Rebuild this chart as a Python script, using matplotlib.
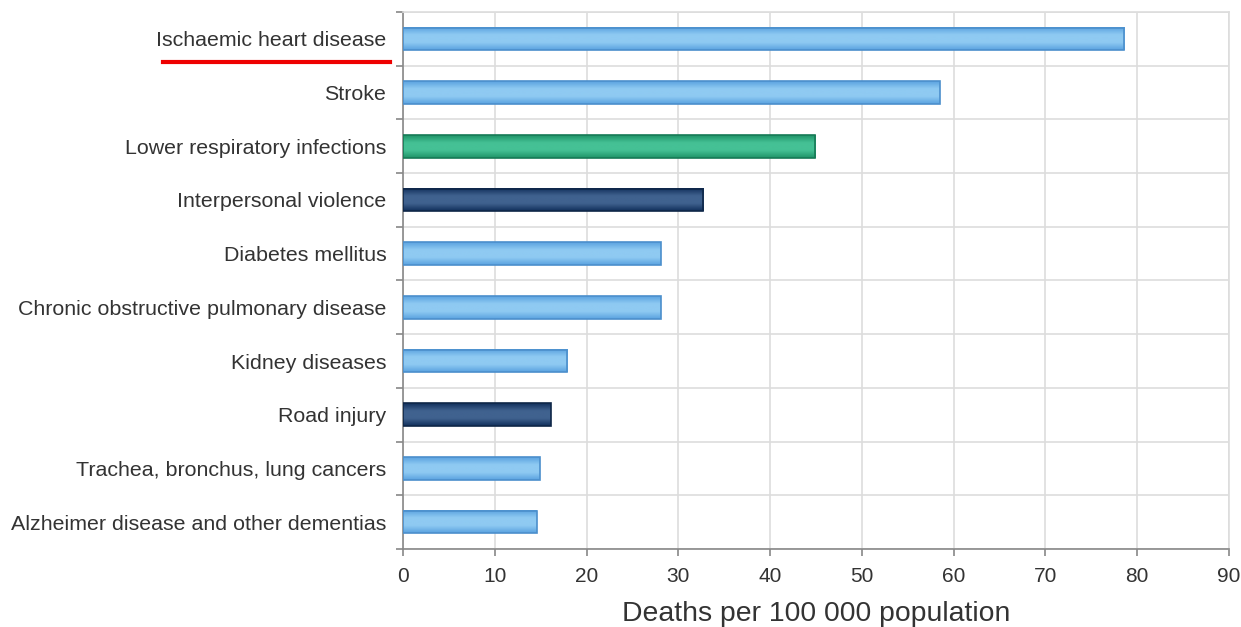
import matplotlib.pyplot as plt
import numpy as np
from matplotlib.colors import LinearSegmentedColormap
from matplotlib.lines import Line2D

plt.rcParams['font.family'] = ['Liberation Sans', 'DejaVu Sans']

causes = ['Ischaemic heart disease', 'Stroke', 'Lower respiratory infections',
          'Interpersonal violence', 'Diabetes mellitus',
          'Chronic obstructive pulmonary disease', 'Kidney diseases',
          'Road injury', 'Trachea, bronchus, lung cancers',
          'Alzheimer disease and other dementias']
deaths = [78.6, 58.5, 44.9, 32.7, 28.1, 28.1, 17.9, 16.1, 14.9, 14.6]
group = ['ncd', 'ncd', 'comm', 'inj', 'ncd', 'ncd', 'ncd', 'inj', 'ncd', 'ncd']

# edge colour, light middle, darker bottom
shades = {'ncd': ('#4b8fcc', '#8fcaf2', '#5ba3e0'),
          'comm': ('#177a56', '#45c195', '#1f9468'),
          'inj': ('#0f2748', '#40628f', '#12305c')}

fig = plt.figure(figsize=(12.41, 6.27), dpi=100)
ax = fig.add_axes([0.3247, 0.1244, 0.6656, 0.8565])

y = np.arange(len(causes))
h = 0.42
grad = np.linspace(0, 1, 64).reshape(-1, 1)
for yi, v, g in zip(y, deaths, group):
    ec, mid, low = shades[g]
    cmap = LinearSegmentedColormap.from_list(g, [low, mid, mid, low])
    ax.imshow(grad, cmap=cmap, aspect='auto', extent=[0, v, yi + h / 2, yi - h / 2],
              zorder=3, interpolation='bicubic')
    ax.barh(yi, v, height=h, color='none', edgecolor=ec, linewidth=1.2, zorder=4)

ax.set_xlim(0, 90)
ax.set_ylim(len(causes) - 0.5, -0.5)
ax.set_xticks(np.arange(0, 91, 10))
ax.set_yticks(y)
ax.set_yticklabels(causes)
ax.set_yticks(np.arange(-0.5, len(causes), 1), minor=True)

ax.tick_params(axis='y', which='major', length=0, pad=12, labelsize=15.4, labelcolor='#333333')
ax.tick_params(axis='y', which='minor', length=5, color='#888888', width=1.2)
ax.tick_params(axis='x', which='major', length=5, color='#888888', width=1.2,
               pad=8, labelsize=15, labelcolor='#333333')

ax.grid(axis='x', which='major', color='#dddddd', linewidth=1.2, zorder=0)
ax.grid(axis='y', which='minor', color='#dddddd', linewidth=1.2, zorder=0)

for s in ['top', 'right']:
    ax.spines[s].set_color('#dddddd')
    ax.spines[s].set_linewidth(1.2)
for s in ['left', 'bottom']:
    ax.spines[s].set_color('#888888')
    ax.spines[s].set_linewidth(1.2)

ax.set_xlabel('Deaths per 100 000 population', fontsize=20.4, color='#333333', labelpad=11)

# red underline under the first label
fig.add_artist(Line2D([163 / 1241, 390 / 1241], [1 - 62 / 627, 1 - 62 / 627],
                      color='#ee0000', linewidth=3, transform=fig.transFigure))

fig.savefig('out.png', dpi=100)
